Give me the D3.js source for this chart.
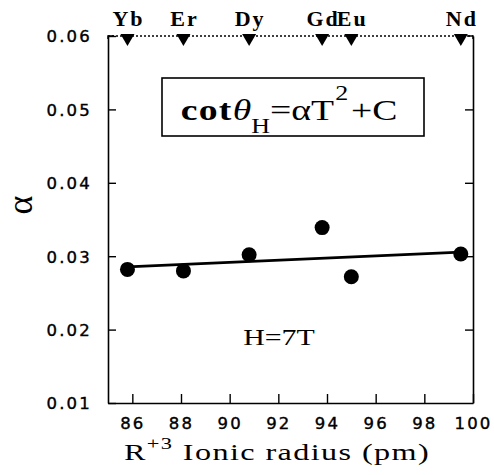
<!DOCTYPE html>
<html>
<head>
<meta charset="utf-8">
<script src="https://cdn.jsdelivr.net/npm/d3@7"></script>
<style>
  html, body { margin: 0; padding: 0; background: #fff; }
  svg { display: block; }
</style>
</head>
<body>
<svg id="chart" width="494" height="475"></svg>
<script>
// Rare-earth ions and their R+3 ionic radii (pm) with fitted alpha at H = 7 T
const elements = ["Yb", "Er", "Dy", "Gd", "Eu", "Nd"];
const radius = [85.8, 88.1, 90.8, 93.8, 95.0, 99.5];
const alpha = [0.0282, 0.0280, 0.0302, 0.0339, 0.0272, 0.0303];

// Straight-line fit through the points (end points)
const fitRadius = [85.8, 99.5];
const fitAlpha = [0.02855, 0.03055];

// Axis ticks
const xTicks = [86, 88, 90, 92, 94, 96, 98, 100];
const yTicks = [0.01, 0.02, 0.03, 0.04, 0.05, 0.06];

const svg = d3.select("#chart");
const margin = { left: 108, right: 21, top: 36, bottom: 72 };
const W = +svg.attr("width"), H = +svg.attr("height");
const x0 = margin.left, x1 = W - margin.right;
const y0 = H - margin.bottom, y1 = margin.top;

const x = d3.scaleLinear().domain([85, 100]).range([x0, x1]);
const y = d3.scaleLinear().domain([0.01, 0.06]).range([y0, y1]);

const tickFont = "'DejaVu Sans', sans-serif";
const serif = "'Liberation Serif', serif";

// Left axis (ticks inward)
const left = svg.append("g").attr("transform", `translate(${x0},0)`)
  .call(d3.axisLeft(y).tickValues(yTicks).tickFormat(d3.format(".2f"))
    .tickSizeInner(-8).tickSizeOuter(0).tickPadding(16));
// Right axis (ticks inward, no labels)
const right = svg.append("g").attr("transform", `translate(${x1},0)`)
  .call(d3.axisRight(y).tickValues(yTicks.slice(1, -1)).tickFormat("")
    .tickSizeInner(-8).tickSizeOuter(0));
// Bottom axis (ticks inward)
const bottom = svg.append("g").attr("transform", `translate(0,${y0})`)
  .call(d3.axisBottom(x).tickValues(xTicks).tickFormat(d3.format("d"))
    .tickSizeInner(-9).tickSizeOuter(0).tickPadding(14));

[left, right, bottom].forEach(g => {
  g.select(".domain").attr("stroke", "#000").attr("stroke-width", 1.6);
  g.selectAll(".tick line").attr("stroke", "#000").attr("stroke-width", 1.4);
  g.selectAll(".tick text")
    .attr("fill", "#000")
    .attr("stroke", "#000")
    .attr("stroke-width", 0.4)
    .style("font-family", tickFont)
    .style("font-size", "16.5px")
    .style("letter-spacing", "2.2px");
});
left.selectAll(".tick text").attr("dy", "0.36em");
bottom.selectAll(".tick text").attr("dy", "0.71em");

// Top edge: dotted line with short solid corners
svg.append("line")
  .attr("x1", x0).attr("x2", x1).attr("y1", y1).attr("y2", y1)
  .attr("stroke", "#000").attr("stroke-width", 1.3)
  .attr("stroke-dasharray", "2,2");
svg.append("path")
  .attr("d", `M${x0},${y1 + 3}V${y1}H${x0 + 6}M${x1 - 6},${y1}H${x1}V${y1 + 3}`)
  .attr("fill", "none").attr("stroke", "#000").attr("stroke-width", 1.5);

// Element markers along the top edge
const tri = d3.symbol().type(d3.symbolTriangle).size(85);
svg.append("g").selectAll("path")
  .data(radius)
  .join("path")
  .attr("d", tri)
  .attr("transform", d => `translate(${x(d)},${y1 + 2}) rotate(180)`)
  .attr("fill", "#000");

svg.append("g").selectAll("text")
  .data(elements)
  .join("text")
  .attr("x", (d, i) => x(radius[i]) + 1)
  .attr("y", 26)
  .attr("text-anchor", "middle")
  .style("font-family", serif)
  .style("font-weight", "bold")
  .style("font-size", "22px")
  .style("letter-spacing", "2px")
  .text(d => d);

// Fit line
svg.append("path")
  .datum(fitRadius.map((r, i) => [r, fitAlpha[i]]))
  .attr("d", d3.line().x(d => x(d[0])).y(d => y(d[1])))
  .attr("fill", "none").attr("stroke", "#000").attr("stroke-width", 2.6);

// Data points
svg.append("g").selectAll("circle")
  .data(radius)
  .join("circle")
  .attr("cx", d => x(d))
  .attr("cy", (d, i) => y(alpha[i]))
  .attr("r", 7.5)
  .attr("fill", "#000");

// Horizontally widened serif text, anchored at its centre baseline
function wideText(cx, by, sx) {
  return svg.append("g")
    .attr("transform", `translate(${cx},${by}) scale(${sx},1)`)
    .append("text")
    .attr("x", 0).attr("y", 0)
    .attr("text-anchor", "middle")
    .style("font-family", serif);
}

// Equation box
svg.append("rect")
  .attr("x", 162).attr("y", 78).attr("width", 262).attr("height", 58)
  .attr("fill", "none").attr("stroke", "#000").attr("stroke-width", 1.6);

const eq = wideText(289, 120, 1.3).style("font-size", "29px");
eq.append("tspan").style("font-weight", "bold").style("letter-spacing", "1px").text("cot");
eq.append("tspan").style("font-style", "italic").text("θ");
eq.append("tspan").attr("dy", 13).style("font-size", "20px").text("H");
eq.append("tspan").attr("dy", -13).text("=αT");
eq.append("tspan").attr("dy", -20).attr("dx", 1).style("font-size", "20px").text("2");
eq.append("tspan").attr("dy", 20).attr("dx", 2).text("+C");

// Field annotation
wideText(279, 345, 1.3).style("font-size", "23px").text("H=7T");

// X axis title
const xt = wideText(277, 460, 1.4)
  .style("font-size", "23px")
  .style("letter-spacing", "1px");
xt.append("tspan").text("R");
xt.append("tspan").attr("dy", -11).style("font-size", "16px").text("+3");
xt.append("tspan").attr("dy", 11).text(" Ionic radius (pm)");

// Y axis title
svg.append("text")
  .attr("transform", "translate(32,205) rotate(-90)")
  .attr("text-anchor", "middle")
  .style("font-family", serif)
  .style("font-size", "36px")
  .text("α");
</script>
</body>
</html>
